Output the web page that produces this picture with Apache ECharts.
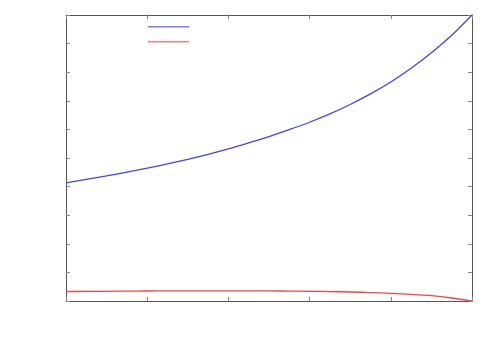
<!DOCTYPE html>
<html>
<head>
<meta charset="utf-8">
<script src="https://cdn.jsdelivr.net/npm/echarts@6/dist/echarts.min.js"></script>
<style>html,body{margin:0;padding:0;background:#fff}#c{width:500px;height:350px}</style>
</head>
<body>
<div id="c"></div>
<script>
var xValues    = [0, 0.05, 0.1, 0.15, 0.2, 0.25, 0.3, 0.35, 0.4, 0.45, 0.5, 0.55, 0.6, 0.65, 0.7, 0.75, 0.8, 0.85, 0.9, 0.95, 1.0];
var blueValues = [4.13, 4.25, 4.375, 4.505, 4.645, 4.795, 4.955, 5.13, 5.32, 5.53, 5.75, 5.99, 6.25, 6.54, 6.87, 7.24, 7.66, 8.14, 8.68, 9.29, 10.0];
var redValues  = [0.33, 0.335, 0.34, 0.345, 0.35, 0.353, 0.355, 0.357, 0.357, 0.355, 0.352, 0.347, 0.34, 0.33, 0.315, 0.295, 0.27, 0.235, 0.185, 0.105, 0.0];
var seriesNames = ['blue', 'red'];

function pairs(xs, ys) { return xs.map(function (x, i) { return [x, ys[i]]; }); }

var chart = echarts.init(document.getElementById('c'), null, {renderer: 'canvas'});
var axisLine = {show: true, onZero: false, lineStyle: {color: '#555', width: 1}};
var tick = {show: true, inside: true, length: 4, lineStyle: {color: '#888'}};
chart.setOption({
  animation: false,
  backgroundColor: '#fff',
  grid: {left: 66, right: 28, top: 15, bottom: 49},
  legend: {
    left: 148, top: 26, orient: 'vertical', padding: 0,
    itemWidth: 41, itemHeight: 1.5, itemGap: 13.5, icon: 'rect',
    formatter: function () { return ''; },
    data: [
      {name: seriesNames[0], itemStyle: {color: '#7a7aff'}},
      {name: seriesNames[1], itemStyle: {color: '#ff7a7a'}}
    ]
  },
  xAxis: [
    {type: 'value', position: 'bottom', min: 0, max: 1, interval: 0.2,
     axisLine: axisLine, axisTick: tick, axisLabel: {show: false}, splitLine: {show: false}},
    {type: 'value', position: 'top', min: 0, max: 1, interval: 0.2,
     axisLine: axisLine, axisTick: tick, axisLabel: {show: false}, splitLine: {show: false}}
  ],
  yAxis: [
    {type: 'value', position: 'left', min: 0, max: 10, interval: 1,
     axisLine: axisLine, axisTick: tick, axisLabel: {show: false}, splitLine: {show: false}},
    {type: 'value', position: 'right', min: 0, max: 10, interval: 1,
     axisLine: axisLine, axisTick: tick, axisLabel: {show: false}, splitLine: {show: false}}
  ],
  series: [
    {name: seriesNames[0], type: 'line', smooth: 0.3, showSymbol: false, symbol: 'none',
     data: pairs(xValues, blueValues), lineStyle: {color: '#4040ff', width: 1.3}, itemStyle: {color: '#4040ff'}},
    {name: seriesNames[1], type: 'line', smooth: 0.3, showSymbol: false, symbol: 'none',
     data: pairs(xValues, redValues), lineStyle: {color: '#ff4040', width: 1.3}, itemStyle: {color: '#ff4040'}}
  ]
});
</script>
</body>
</html>
